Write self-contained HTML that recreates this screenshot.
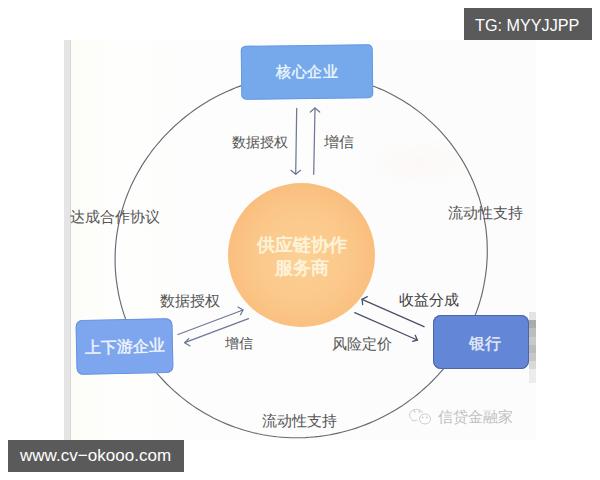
<!DOCTYPE html>
<html><head><meta charset="utf-8">
<style>
html,body{margin:0;padding:0;width:600px;height:480px;overflow:hidden;background:#fff;}
body{position:relative;font-family:"Liberation Sans",sans-serif;}
.abs{position:absolute;}
#photo{left:71px;top:40px;width:465px;height:400px;background:linear-gradient(90deg,#fcfcf7 0,#fefefc 40px,#fdfdfd 120px,#fcfcfc 100%);}
#strip{left:64px;top:40px;width:7px;height:400px;background:#e5e5e5;border-right:1px solid #d8d8d8;box-sizing:border-box;}
.lbl{position:absolute;font-size:14px;line-height:14px;color:#555;white-space:nowrap;}
.box{position:absolute;border-radius:7px;color:#eef4fb;font-size:16px;line-height:16px;display:flex;align-items:center;justify-content:center;white-space:nowrap;}
#core{transform:rotate(-0.7deg);left:241px;top:44.5px;width:132px;height:54px;padding-top:0px;box-sizing:border-box;letter-spacing:0.5px;text-indent:0.5px;background:#76a9ec;box-shadow:inset 0 0 0 1px #6699e0;border-radius:5px;font-size:15px;font-weight:normal;color:#eaf5fc;-webkit-text-stroke:0.45px #eaf5fc;}
#updown{transform:rotate(-1.2deg);left:76px;top:319px;width:97px;height:55px;background:#7ea6ee;box-shadow:inset 0 0 0 1px #6a92e2;font-weight:normal;color:#f0f5fd;-webkit-text-stroke:0.45px #f0f5fd;}
#bank{left:433px;top:315px;width:96px;height:54px;background:#6486d6;box-shadow:inset 0 0 0 1px #4a64b0;font-size:16px;padding-left:8px;padding-top:3px;box-sizing:border-box;border-radius:8px;color:#e6ecf8;-webkit-text-stroke:0.35px #e6ecf8;}
#orb{left:228px;top:183px;width:147px;height:144px;border-radius:50%;
 background:radial-gradient(circle at 50% 52%,#fcd094 0%,#fbc88a 45%,#f9bb7a 80%,#f5ac68 96%,#eca062 100%);}
.orbt{position:absolute;left:228px;width:147px;text-align:center;color:#fdf3da;font-weight:normal;-webkit-text-stroke:0.75px #fdf3da;font-size:18px;line-height:18px;white-space:nowrap;}
.wm{position:absolute;background:#5a5a5a;color:#fff;font-size:17px;line-height:32px;height:32px;white-space:nowrap;}
</style></head><body>
<div id="photo" class="abs"></div>
<div id="strip" class="abs"></div>
<div class="abs" style="left:360px;top:135px;width:120px;height:55px;background:radial-gradient(ellipse at center,rgba(250,220,205,0.14),rgba(250,220,205,0) 70%)"></div>
<div class="abs" style="left:529px;top:312px;width:7px;height:71px;background:linear-gradient(#e4e4e4 0,#e4e4e4 8px,#ababab 8px,#ababab 16px,#bdbdbd 16px,#bdbdbd 25px,#c9c9c9 25px,#c9c9c9 33px,#bbbbbb 33px,#bbbbbb 41px,#c6c6c6 41px,#c6c6c6 49px,#d9d9d9 49px,#d9d9d9 57px,#ececec 57px)"></div>

<svg class="abs" style="left:0;top:0" width="600" height="480" viewBox="0 0 600 480">
  <path d="M115.1,257.0 L115.2,252.1 L115.5,247.3 L115.9,242.5 L116.4,237.6 L117.1,232.8 L117.9,228.1 L118.8,223.3 L119.9,218.6 L121.0,213.9 L122.4,209.2 L123.8,204.6 L125.3,200.1 L127.0,195.5 L128.8,191.1 L130.7,186.6 L132.8,182.3 L134.9,178.0 L137.2,173.7 L139.6,169.6 L142.0,165.4 L144.6,161.4 L147.3,157.4 L150.1,153.5 L152.9,149.7 L155.9,146.0 L159.0,142.3 L162.1,138.7 L165.4,135.2 L168.7,131.8 L172.1,128.5 L175.5,125.2 L179.1,122.1 L182.7,119.0 L186.4,116.0 L190.2,113.1 L194.0,110.3 L198.0,107.6 L201.9,105.0 L205.9,102.5 L210.0,100.1 L214.2,97.8 L218.4,95.6 L222.6,93.5 L226.9,91.5 L231.3,89.6 L235.6,87.8 L240.1,86.1 L244.6,84.5 L249.1,83.0 L253.6,81.7 L258.2,80.4 L262.8,79.2 L267.5,78.2 L272.1,77.3 L276.8,76.5 L281.6,75.8 L286.3,75.2 L291.0,74.7 L295.8,74.4 L300.6,74.1 L305.4,74.0 L310.2,74.1 L315.0,74.2 L319.8,74.5 L324.6,74.8 L329.4,75.3 L334.2,76.0 L338.9,76.7 L343.7,77.6 L348.4,78.6 L353.1,79.7 L357.8,81.0 L362.4,82.4 L367.1,83.9 L371.6,85.5 L376.2,87.3 L380.7,89.1 L385.1,91.1 L389.5,93.3 L393.8,95.5 L398.1,97.9 L402.3,100.3 L406.5,102.9 L410.6,105.6 L414.6,108.5 L418.5,111.4 L422.4,114.4 L426.1,117.6 L429.8,120.9 L433.4,124.2 L436.9,127.7 L440.3,131.2 L443.6,134.9 L446.8,138.6 L449.9,142.4 L452.9,146.4 L455.7,150.4 L458.5,154.5 L461.2,158.6 L463.7,162.8 L466.1,167.1 L468.4,171.5 L470.6,175.9 L472.6,180.4 L474.5,185.0 L476.3,189.6 L477.9,194.2 L479.5,198.9 L480.8,203.6 L482.1,208.4 L483.2,213.2 L484.2,218.0 L485.0,222.8 L485.8,227.7 L486.3,232.5 L486.8,237.4 L487.1,242.3 L487.2,247.2 L487.3,252.1 L487.2,257.0 L486.9,261.9 L486.6,266.7 L486.0,271.6 L485.4,276.4 L484.6,281.2 L483.7,286.0 L482.7,290.8 L481.6,295.5 L480.3,300.1 L478.9,304.8 L477.4,309.4 L475.7,313.9 L474.0,318.4 L472.1,322.8 L470.1,327.2 L468.0,331.5 L465.8,335.8 L463.5,340.0 L461.1,344.2 L458.6,348.2 L456.0,352.2 L453.3,356.2 L450.5,360.0 L447.6,363.8 L444.6,367.5 L441.5,371.1 L438.4,374.7 L435.1,378.1 L431.8,381.5 L428.4,384.8 L424.9,388.0 L421.4,391.1 L417.7,394.2 L414.1,397.1 L410.3,399.9 L406.5,402.7 L402.6,405.4 L398.6,407.9 L394.6,410.4 L390.5,412.8 L386.4,415.0 L382.2,417.2 L378.0,419.3 L373.7,421.3 L369.4,423.1 L365.0,424.9 L360.6,426.5 L356.2,428.1 L351.7,429.5 L347.2,430.8 L342.6,432.0 L338.0,433.1 L333.4,434.1 L328.8,435.0 L324.1,435.7 L319.5,436.4 L314.8,436.9 L310.0,437.3 L305.3,437.6 L300.6,437.7 L295.9,437.8 L291.1,437.7 L286.4,437.5 L281.7,437.2 L276.9,436.8 L272.2,436.2 L267.5,435.5 L262.8,434.7 L258.2,433.8 L253.5,432.7 L248.9,431.5 L244.3,430.2 L239.8,428.8 L235.2,427.3 L230.7,425.6 L226.3,423.9 L221.9,422.0 L217.6,420.0 L213.3,417.9 L209.0,415.6 L204.8,413.3 L200.7,410.8 L196.6,408.3 L192.7,405.6 L188.7,402.8 L184.9,399.9 L181.1,396.9 L177.4,393.8 L173.8,390.6 L170.3,387.3 L166.8,384.0 L163.5,380.5 L160.2,376.9 L157.0,373.3 L154.0,369.5 L151.0,365.7 L148.1,361.8 L145.4,357.8 L142.7,353.8 L140.2,349.6 L137.7,345.4 L135.4,341.2 L133.2,336.8 L131.1,332.5 L129.2,328.0 L127.3,323.5 L125.6,319.0 L124.0,314.4 L122.5,309.7 L121.2,305.1 L120.0,300.4 L118.9,295.6 L118.0,290.8 L117.2,286.1 L116.5,281.2 L115.9,276.4 L115.5,271.6 L115.2,266.7 L115.1,261.9 L115.1,257.0Z" fill="none" stroke="#666a74" stroke-width="1.15" stroke-linejoin="round"/>
  <g stroke="#6e7896" stroke-width="1.25" fill="none" stroke-linecap="round" stroke-linejoin="round">
    <!-- down arrow -->
    <line x1="296.7" y1="108.3" x2="295.7" y2="174.3"/>
    <polyline points="291,170.3 295.7,174.3 300.5,170.3"/>
    <!-- up arrow -->
    <line x1="313.7" y1="174.3" x2="315" y2="108"/>
    <polyline points="310.3,112 315,108 319.7,112"/>
    <!-- arrows near up-down -->
    <line x1="178" y1="334.5" x2="243" y2="310"/>
    <polyline points="238,307 243,310 240.5,314.7"/>
    <line x1="248.5" y1="318.7" x2="184.7" y2="342.7"/>
    <polyline points="188.7,338.7 184.7,342.7 190,346"/>
  </g>
  <g fill="none" stroke="#cdcdcd" stroke-width="1">
    <path d="M411,418.5 C408.5,416 409,410.5 415,409.5 C420.5,409 422.5,411.5 422,413"/>
    <path d="M411,418.5 L413,421 L417,420"/>
    <ellipse cx="425" cy="419" rx="5.5" ry="5" fill="#fefefe"/>
    <circle cx="414.5" cy="411.5" r="0.6" fill="#c6c6c6"/><circle cx="419.5" cy="411.5" r="0.6" fill="#c6c6c6"/>
    <circle cx="422.5" cy="417.5" r="0.6" fill="#c6c6c6"/><circle cx="427" cy="417.5" r="0.6" fill="#c6c6c6"/>
  </g>
  <g stroke="#485068" stroke-width="1.3" fill="none" stroke-linecap="round">
    <line x1="424" y1="326.7" x2="362" y2="299.3"/>
    <polyline points="367.3,296.7 362,299.3 362.7,304.7"/>
    <line x1="354.7" y1="312.7" x2="417.3" y2="340"/>
    <polyline points="415.3,335.3 417.3,340 412.7,341.3"/>
  </g>
</svg>

<div id="core" class="box">核心企业</div>
<div id="updown" class="box">上下游企业</div>
<div id="bank" class="box">银行</div>
<div id="orb" class="abs"></div>
<div class="orbt" style="top:236px">供应链协作</div>
<div class="orbt" style="top:259px">服务商</div>

<div class="lbl" style="left:232px;top:134.5px;font-size:14.3px">数据授权</div>
<div class="lbl" style="left:323.5px;top:134.5px;font-size:14.5px">增信</div>
<div class="lbl" style="left:70px;top:209.5px;font-size:15px">达成合作协议</div>
<div class="lbl" style="left:448px;top:205.5px;font-size:14.7px">流动性支持</div>
<div class="lbl" style="left:262px;top:413.5px;font-size:14.7px">流动性支持</div>
<div class="lbl" style="left:160px;top:293.5px;font-size:14.7px">数据授权</div>
<div class="lbl" style="left:225px;top:336px">增信</div>
<div class="lbl" style="left:332px;top:336.5px;font-size:14.7px">风险定价</div>
<div class="lbl" style="left:399px;top:292.5px;color:#3c3c3c;font-size:14.6px">收益分成</div>
<div class="lbl" style="left:438px;top:410px;color:#c0c0c0;font-size:15px">信贷金融家</div>

<div class="wm" style="left:464px;top:8px;width:128px;font-size:16.2px;text-indent:11px;line-height:34px;overflow:hidden">TG: MYYJJPP</div>
<div class="wm" style="left:8px;top:440px;width:176px;font-size:17px;letter-spacing:0.03px;text-indent:12px;line-height:31px">www.cv−okooo.com</div>
</body></html>
